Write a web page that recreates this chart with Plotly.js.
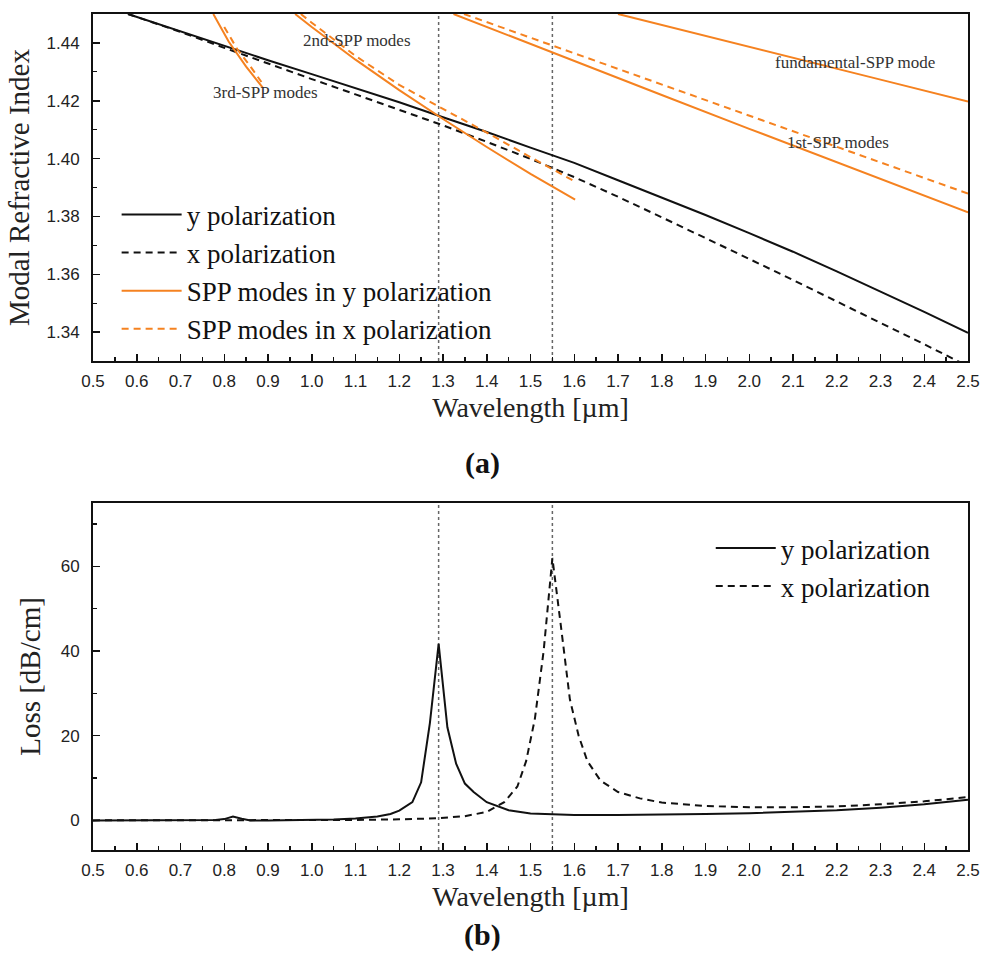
<!DOCTYPE html>
<html>
<head>
<meta charset="utf-8">
<script src="https://cdn.plot.ly/plotly-3.0.1.min.js"></script>
<style>
  html, body { margin: 0; padding: 0; background: #fff; }
  #chart { width: 983px; height: 957px; }
</style>
</head>
<body>
<div id="chart"></div>
<script>
// ---------- Panel (a): modal refractive index ----------
const wlCore = [0.58, 0.6, 0.7, 0.8, 0.9, 1.0, 1.1, 1.2, 1.3, 1.4, 1.5, 1.6, 1.7, 1.8, 1.9, 2.0, 2.1, 2.2, 2.3, 2.4, 2.5];
const nYpol  = [1.4500, 1.4490, 1.4440, 1.4388, 1.4340, 1.4292, 1.4243, 1.4195, 1.4143, 1.4092, 1.4038, 1.3985, 1.3925, 1.3866, 1.3805, 1.3742, 1.3678, 1.3610, 1.3540, 1.3470, 1.3397];
const nXpol  = [1.4500, 1.4490, 1.4438, 1.4383, 1.4328, 1.4275, 1.4222, 1.4168, 1.4115, 1.4058, 1.3999, 1.3936, 1.3868, 1.3797, 1.3726, 1.3653, 1.3580, 1.3507, 1.3432, 1.3358, 1.3282];

// SPP modes, y polarization (solid orange)
const wlFundY = [1.70, 1.90, 2.10, 2.30, 2.50];
const nFundY  = [1.4500, 1.4425, 1.4350, 1.4273, 1.4197];
const wl1stY  = [1.324, 1.4, 1.6, 1.8, 2.0, 2.2, 2.4, 2.5];
const n1stY   = [1.4500, 1.4455, 1.4337, 1.4220, 1.4103, 1.3987, 1.3872, 1.3814];
const wl2ndY  = [0.962, 1.0, 1.1, 1.2, 1.3, 1.4, 1.5, 1.602];
const n2ndY   = [1.4500, 1.4455, 1.4342, 1.4237, 1.4137, 1.4040, 1.3947, 1.3858];
const wl3rdY  = [0.775, 0.81, 0.85, 0.888];
const n3rdY   = [1.4500, 1.4405, 1.4318, 1.4245];

// SPP modes, x polarization (dashed orange)
const wl1stX  = [1.348, 1.5, 1.7, 1.9, 2.1, 2.3, 2.5];
const n1stX   = [1.4500, 1.4418, 1.4310, 1.4202, 1.4094, 1.3986, 1.3879];
const wl2ndX  = [0.975, 1.0, 1.1, 1.2, 1.3, 1.4, 1.5, 1.6];
const n2ndX   = [1.4500, 1.4470, 1.4355, 1.4255, 1.4172, 1.4090, 1.4005, 1.3922];
const wl3rdX  = [0.80, 0.83, 0.86, 0.885];
const n3rdX   = [1.4455, 1.4378, 1.4318, 1.4265];

// ---------- Panel (b): loss ----------
const wlLossY = [0.5, 0.6, 0.7, 0.78, 0.8, 0.82, 0.84, 0.86, 0.9, 1.0, 1.05, 1.1, 1.15, 1.18, 1.2, 1.23, 1.25, 1.27, 1.29, 1.31, 1.33, 1.35, 1.37, 1.4, 1.45, 1.5, 1.55, 1.6, 1.7, 1.8, 1.9, 2.0, 2.1, 2.2, 2.3, 2.4, 2.5];
const lossY   = [0.0, 0.0, 0.05, 0.1, 0.3, 0.9, 0.4, 0.0, 0.0, 0.1, 0.2, 0.45, 0.9, 1.5, 2.3, 4.3, 9.0, 23.0, 41.7, 22.0, 13.4, 8.7, 6.7, 4.3, 2.4, 1.6, 1.4, 1.3, 1.25, 1.3, 1.5, 1.7, 2.0, 2.4, 3.0, 3.8, 4.9];
const wlLossX = [0.5, 0.8, 1.0, 1.1, 1.2, 1.29, 1.35, 1.4, 1.44, 1.47, 1.49, 1.51, 1.53, 1.55, 1.57, 1.59, 1.61, 1.63, 1.66, 1.7, 1.75, 1.8, 1.9, 2.0, 2.1, 2.2, 2.3, 2.4, 2.5];
const lossX   = [0.0, 0.0, 0.05, 0.1, 0.25, 0.5, 1.0, 2.0, 4.3, 8.0, 14.0, 24.0, 40.0, 62.0, 45.5, 28.6, 20.0, 14.0, 9.4, 6.7, 5.2, 4.2, 3.4, 3.1, 3.1, 3.3, 3.8, 4.5, 5.5];

// resonance wavelengths (dotted markers)
const resonanceWl = [1.29, 1.55];

// mode labels
const modeLabels = ['fundamental-SPP mode', '1st-SPP modes', '2nd-SPP modes', '3rd-SPP modes'];
const modeLabelWl = [2.242, 2.203, 1.103, 0.895];
const modeLabelN  = [1.4334, 1.4057, 1.4407, 1.4230];

// ---------- styling ----------
const SERIF = '"Liberation Serif", "Times New Roman", serif';
const SANS = '"Liberation Sans", Arial, sans-serif';
const ORANGE = '#F58220';
const DASH = '7px,5px';

function line(x, y, opts) {
  return Object.assign({type: 'scatter', mode: 'lines', x: x, y: y, hoverinfo: 'skip'}, opts);
}

const traces = [
  line(wlCore, nYpol, {name: 'y polarization', line: {color: '#111', width: 2}, legendgroup: 'a', xaxis: 'x', yaxis: 'y'}),
  line(wlCore, nXpol, {name: 'x polarization', line: {color: '#111', width: 2, dash: DASH}, legendgroup: 'b', xaxis: 'x', yaxis: 'y'}),
  line(wl1stY, n1stY, {name: 'SPP modes in y polarization', line: {color: ORANGE, width: 2}, legendgroup: 'c', xaxis: 'x', yaxis: 'y'}),
  line(wl1stX, n1stX, {name: 'SPP modes in x polarization', line: {color: ORANGE, width: 2, dash: DASH}, legendgroup: 'd', xaxis: 'x', yaxis: 'y'}),
  line(wlFundY, nFundY, {showlegend: false, line: {color: ORANGE, width: 2}, legendgroup: 'c', xaxis: 'x', yaxis: 'y'}),
  line(wl2ndY, n2ndY, {showlegend: false, line: {color: ORANGE, width: 2}, legendgroup: 'c', xaxis: 'x', yaxis: 'y'}),
  line(wl3rdY, n3rdY, {showlegend: false, line: {color: ORANGE, width: 2}, legendgroup: 'c', xaxis: 'x', yaxis: 'y'}),
  line(wl2ndX, n2ndX, {showlegend: false, line: {color: ORANGE, width: 2, dash: DASH}, legendgroup: 'd', xaxis: 'x', yaxis: 'y'}),
  line(wl3rdX, n3rdX, {showlegend: false, line: {color: ORANGE, width: 2, dash: DASH}, legendgroup: 'd', xaxis: 'x', yaxis: 'y'}),
  line(wlLossY, lossY, {name: 'y polarization', line: {color: '#111', width: 2}, xaxis: 'x2', yaxis: 'y2', legend: 'legend2', legendgroup: 'e'}),
  line(wlLossX, lossX, {name: 'x polarization', line: {color: '#111', width: 2, dash: DASH}, xaxis: 'x2', yaxis: 'y2', legend: 'legend2', legendgroup: 'f'})
];

function xAxis(anchor) {
  return {
    anchor: anchor, domain: [0, 1], range: [0.5, 2.5],
    tick0: 0.5, dtick: 0.1, tickformat: '.1f',
    ticks: 'inside', ticklen: 7, tickwidth: 1.5, tickcolor: '#111',
    minor: {ticks: 'inside', dtick: 0.05, ticklen: 4, tickwidth: 1.3, tickcolor: '#111', showgrid: false},
    showline: true, linewidth: 2, linecolor: '#111', mirror: true,
    showgrid: false, zeroline: false,
    tickfont: {family: SANS, size: 17, color: '#222'},
    ticklabelstandoff: 4,
    title: {text: 'Wavelength [µm]', font: {family: SERIF, size: 28, color: '#222'}, standoff: 7}
  };
}

const shapes = [];
resonanceWl.forEach(w => {
  ['y', 'y2'].forEach((ya, i) => {
    shapes.push({type: 'line', xref: i === 0 ? 'x' : 'x2', yref: ya + ' domain', x0: w, x1: w, y0: 0, y1: 1,
      line: {color: '#666', width: 1.5, dash: 'dot'}, layer: 'below'});
  });
});

const annotations = modeLabels.map((t, i) => ({
  text: t, x: modeLabelWl[i], y: modeLabelN[i], xref: 'x', yref: 'y', showarrow: false,
  font: {family: SERIF, size: 17, color: '#333'}
}));
annotations.push({text: '<b>(a)</b>', x: 0.4457, y: 0.4629, xref: 'paper', yref: 'paper', showarrow: false,
  xanchor: 'center', yanchor: 'middle', font: {family: SERIF, size: 30, color: '#111'}});
annotations.push({text: '<b>(b)</b>', x: 0.4457, y: -0.1017, xref: 'paper', yref: 'paper', showarrow: false,
  xanchor: 'center', yanchor: 'middle', font: {family: SERIF, size: 30, color: '#111'}});

const layout = {
  width: 983, height: 957,
  margin: {l: 93, r: 15, t: 14, b: 107},
  paper_bgcolor: '#fff', plot_bgcolor: '#fff',
  showlegend: true,
  xaxis: xAxis('y'),
  xaxis2: xAxis('y2'),
  yaxis: {
    anchor: 'x', domain: [0.5849, 1], range: [1.33, 1.45],
    tick0: 1.34, dtick: 0.02, tickformat: '.2f',
    ticks: 'inside', ticklen: 7, tickwidth: 1.5, tickcolor: '#111',
    minor: {ticks: 'inside', dtick: 0.01, ticklen: 4, tickwidth: 1.3, tickcolor: '#111', showgrid: false},
    showline: true, linewidth: 2, linecolor: '#111', mirror: true,
    showgrid: false, zeroline: false,
    tickfont: {family: SANS, size: 17, color: '#222'},
    ticklabelstandoff: 8,
    title: {text: 'Modal Refractive Index', font: {family: SERIF, size: 29, color: '#222'}, standoff: 8}
  },
  yaxis2: {
    anchor: 'x2', domain: [0, 0.4151], range: [-7, 75],
    tick0: 0, dtick: 20,
    ticks: 'inside', ticklen: 7, tickwidth: 1.5, tickcolor: '#111',
    minor: {ticks: 'inside', dtick: 10, ticklen: 4, tickwidth: 1.3, tickcolor: '#111', showgrid: false},
    showline: true, linewidth: 2, linecolor: '#111', mirror: true,
    showgrid: false, zeroline: false,
    tickfont: {family: SANS, size: 17, color: '#222'},
    ticklabelstandoff: 8,
    title: {text: 'Loss [dB/cm]', font: {family: SERIF, size: 29, color: '#222'}, standoff: 12}
  },
  legend: {
    x: 0.027, y: 0.789, xanchor: 'left', yanchor: 'top',
    bgcolor: 'rgba(0,0,0,0)', borderwidth: 0,
    font: {family: SERIF, size: 27, color: '#111'},
    traceorder: 'grouped', tracegroupgap: 0, itemwidth: 60
  },
  legend2: {
    x: 0.706, y: 0.39, xanchor: 'left', yanchor: 'top',
    bgcolor: 'rgba(0,0,0,0)', borderwidth: 0,
    font: {family: SERIF, size: 27, color: '#111'},
    traceorder: 'grouped', tracegroupgap: 0, itemwidth: 60
  },
  shapes: shapes,
  annotations: annotations
};

Plotly.newPlot('chart', traces, layout, {staticPlot: true, displayModeBar: false});
</script>
</body>
</html>
